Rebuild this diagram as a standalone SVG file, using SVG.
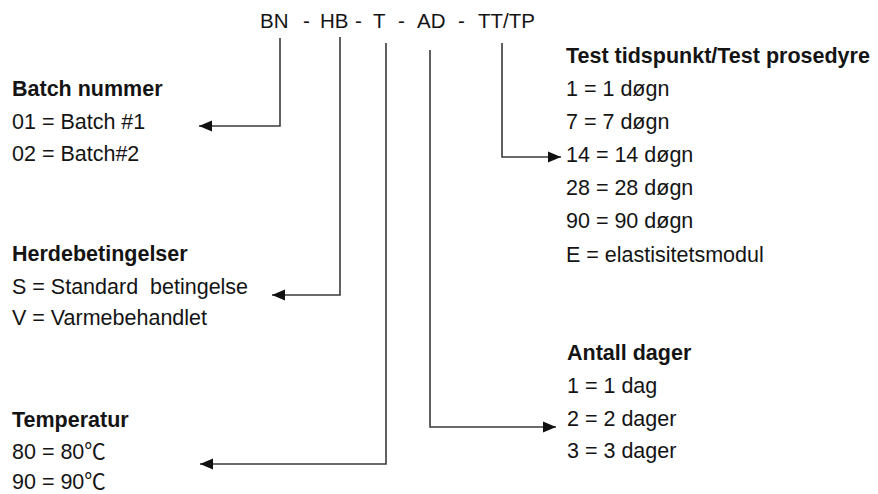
<svg xmlns="http://www.w3.org/2000/svg" width="878" height="494" viewBox="0 0 878 494">
  <style>
    text { font-family: "Liberation Sans", "Noto Sans CJK SC", sans-serif; fill: #141414; }
    .hdr { font-size: 20.5px; }
    .body { font-size: 21.5px; }
    .title { font-size: 21.5px; font-weight: bold; }
    .conn { fill: none; stroke: #3a3a3a; stroke-width: 1.6; }
  </style>
  <defs>
    <marker id="arrow" markerUnits="userSpaceOnUse" markerWidth="14" markerHeight="12" refX="13" refY="6" orient="auto">
      <path d="M0,0.5 L13,6 L0,11.5 Z" fill="#111"/>
    </marker>
  </defs>
  <rect width="878" height="494" fill="#ffffff"/>

  <!-- code pattern -->
  <g id="code">
    <text class="hdr" y="28"><tspan x="260">BN</tspan><tspan x="303">-</tspan><tspan x="320">HB</tspan><tspan x="355">-</tspan><tspan x="373">T</tspan><tspan x="398">-</tspan><tspan x="417">AD</tspan><tspan x="458">-</tspan><tspan x="478">TT/TP</tspan></text>
  </g>

  <g id="batch">
    <text class="title" x="12" y="96">Batch nummer</text>
    <text class="body" x="12" y="129">01 = Batch #1</text>
    <text class="body" x="12" y="161">02 = Batch#2</text>
  </g>

  <g id="herding">
    <text class="title" x="12" y="261">Herdebetingelser</text>
    <text class="body" x="12" y="294" xml:space="preserve">S = Standard  betingelse</text>
    <text class="body" x="12" y="325">V = Varmebehandlet</text>
  </g>

  <g id="temperatur">
    <text class="title" x="12" y="427">Temperatur</text>
    <text class="body" x="12" y="459">80 = 80℃</text>
    <text class="body" x="12" y="489">90 = 90℃</text>
  </g>

  <g id="antall-dager">
    <text class="title" x="567" y="360">Antall dager</text>
    <text class="body" x="567" y="393">1 = 1 dag</text>
    <text class="body" x="567" y="426">2 = 2 dager</text>
    <text class="body" x="567" y="458">3 = 3 dager</text>
  </g>

  <g id="test">
    <text class="title" x="566" y="63">Test tidspunkt/Test prosedyre</text>
    <text class="body" x="566" y="96">1 = 1 døgn</text>
    <text class="body" x="566" y="129">7 = 7 døgn</text>
    <text class="body" x="566" y="162">14 = 14 døgn</text>
    <text class="body" x="566" y="195">28 = 28 døgn</text>
    <text class="body" x="566" y="228">90 = 90 døgn</text>
    <text class="body" x="566" y="262">E = elastisitetsmodul</text>
  </g>

  <g id="connectors">
    <path class="conn" d="M280,38 V126 H199" marker-end="url(#arrow)"/>
    <path class="conn" d="M340,37 V295 H272" marker-end="url(#arrow)"/>
    <path class="conn" d="M386,43 V464 H200" marker-end="url(#arrow)"/>
    <path class="conn" d="M430,50 V427 H556" marker-end="url(#arrow)"/>
    <path class="conn" d="M502,43 V157 H561" marker-end="url(#arrow)"/>
  </g>
</svg>
